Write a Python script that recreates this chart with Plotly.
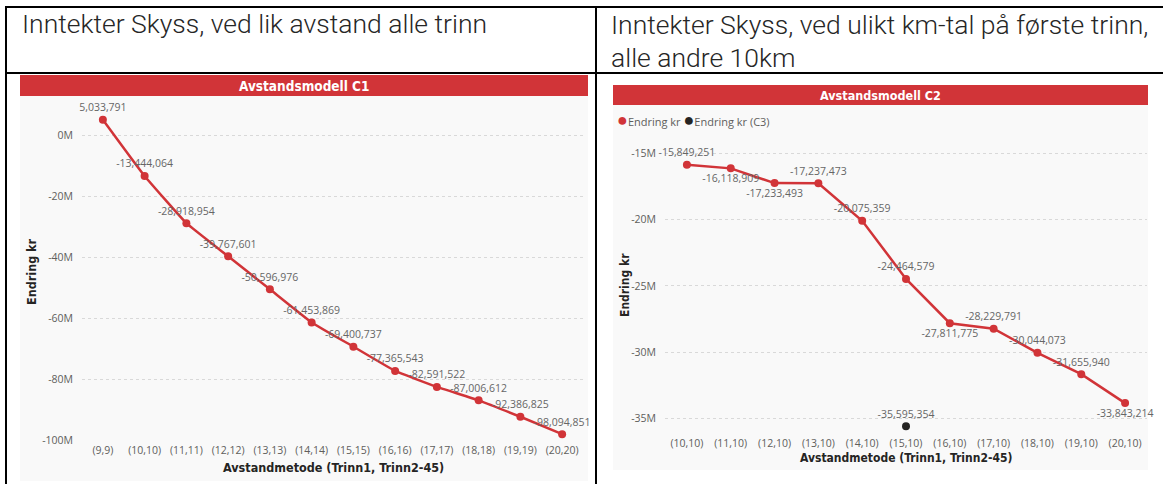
import plotly.graph_objects as go

W, H = 1165, 484

# ---------- data ----------
c1_categories = ["(9,9)", "(10,10)", "(11,11)", "(12,12)", "(13,13)", "(14,14)",
                 "(15,15)", "(16,16)", "(17,17)", "(18,18)", "(19,19)", "(20,20)"]
c1_values = [5033791, -13444064, -28918954, -39767601, -50596976, -61453869,
             -69400737, -77365543, -82591522, -87006612, -92386825, -98094851]

c2_categories = ["(10,10)", "(11,10)", "(12,10)", "(13,10)", "(14,10)", "(15,10)",
                 "(16,10)", "(17,10)", "(18,10)", "(19,10)", "(20,10)"]
c2_values = [-15849251, -16118909, -17233493, -17237473, -20075359, -24464579,
             -27811775, -28229791, -30044073, -31655940, -33843214]
c3_categories = ["(15,10)"]
c3_values = [-35595354]

c1_ticks = [0, -20e6, -40e6, -60e6, -80e6, -100e6]
c1_ticklabels = ["0M", "-20M", "-40M", "-60M", "-80M", "-100M"]
c2_ticks = [-15e6, -20e6, -25e6, -30e6, -35e6]
c2_ticklabels = ["-15M", "-20M", "-25M", "-30M", "-35M"]

# label placement (style, not data)
c2_textpos = ["top center", "bottom center", "bottom center", "top center", "top center",
              "top center", "bottom center", "top center", "top center", "top center",
              "bottom center"]

RED = "#D13438"
DARK = "#252423"
GRAY = "#605E5C"
LABEL = "#666666"


def px_x(p):
    return p / W


def px_y(p):
    return 1 - p / H


def fmt(v):
    return f"{v:,}"


lab_font = dict(family="Open Sans, Noto Sans", size=10.5, color=LABEL)

fig = go.Figure()

fig.add_trace(go.Scatter(
    x=c1_categories, y=c1_values, mode="lines+markers+text",
    line=dict(color=RED, width=2.5, shape="spline", smoothing=0.3),
    marker=dict(color=RED, size=8),
    text=[fmt(v) for v in c1_values], textposition="top center",
    textfont=lab_font, cliponaxis=False, showlegend=False, xaxis="x", yaxis="y"))

fig.add_trace(go.Scatter(
    x=c2_categories, y=c2_values, mode="lines+markers+text", name="Endring kr",
    line=dict(color=RED, width=2.5), marker=dict(color=RED, size=8),
    text=[fmt(v) for v in c2_values], textposition=c2_textpos,
    textfont=lab_font, cliponaxis=False, showlegend=False, xaxis="x2", yaxis="y2"))

fig.add_trace(go.Scatter(
    x=c3_categories, y=c3_values, mode="markers+text", name="Endring kr (C3)",
    marker=dict(color="#252423", size=8),
    text=[fmt(v) for v in c3_values], textposition="top center",
    textfont=lab_font, cliponaxis=False, showlegend=False, xaxis="x2", yaxis="y2"))

axis_common = dict(showline=False, zeroline=False, ticks="", automargin=False,
                   tickfont=dict(family="Open Sans, Noto Sans", size=10.5, color=GRAY))

fig.update_layout(
    width=W, height=H, margin=dict(l=0, r=0, t=0, b=0, pad=0, autoexpand=False),
    paper_bgcolor="white", plot_bgcolor="rgba(0,0,0,0)", showlegend=False,
    xaxis=dict(domain=[px_x(82), px_x(583)], type="category",
               range=[-0.5, len(c1_categories) - 0.5], showgrid=False,
               categoryorder="array", categoryarray=c1_categories,
               anchor="y", ticklabelstandoff=2, **axis_common),
    yaxis=dict(domain=[px_y(440), px_y(104.5)], range=[-100e6, 10e6],
               tickvals=c1_ticks, ticktext=c1_ticklabels,
               showgrid=True, gridcolor="#D9D9D9", griddash="dot", gridwidth=1,
               anchor="x", ticklabelstandoff=8, **axis_common),
    xaxis2=dict(domain=[px_x(665), px_x(1147)], type="category",
                range=[-0.5, len(c2_categories) - 0.5], showgrid=False,
                categoryorder="array", categoryarray=c2_categories,
                anchor="y2", ticklabelstandoff=2, **axis_common),
    yaxis2=dict(domain=[px_y(433), px_y(135)], range=[-36.1e6, -13.6e6],
                tickvals=c2_ticks, ticktext=c2_ticklabels,
                showgrid=True, gridcolor="#D9D9D9", griddash="dot", gridwidth=1,
                anchor="x2", ticklabelstandoff=8, **axis_common),
)

shapes = []
# chart backgrounds
shapes.append(dict(type="rect", xref="paper", yref="paper", layer="below",
                   x0=px_x(20), x1=px_x(588), y0=px_y(481), y1=px_y(95),
                   fillcolor="#F9F9F9", line=dict(width=0)))
shapes.append(dict(type="rect", xref="paper", yref="paper", layer="below",
                   x0=px_x(613), x1=px_x(1148), y0=px_y(470), y1=px_y(105),
                   fillcolor="#F9F9F9", line=dict(width=0)))
# red title bars
shapes.append(dict(type="rect", xref="paper", yref="paper", layer="below",
                   x0=px_x(20), x1=px_x(588), y0=px_y(96), y1=px_y(75),
                   fillcolor=RED, line=dict(width=0)))
shapes.append(dict(type="rect", xref="paper", yref="paper", layer="below",
                   x0=px_x(613), x1=px_x(1148), y0=px_y(105), y1=px_y(85),
                   fillcolor=RED, line=dict(width=0)))
# table borders
for (x0, y0, x1, y1) in [(5, 7, 1163, 7), (5, 73, 1163, 73), (6, 7, 6, 484),
                         (596, 7, 596, 484)]:
    shapes.append(dict(type="line", xref="paper", yref="paper",
                       x0=px_x(x0), x1=px_x(x1), y0=px_y(y0), y1=px_y(y1),
                       line=dict(color="black", width=2)))
fig.update_layout(shapes=shapes)

ann = []
head_font = dict(family="Roboto Light, Roboto", size=26.5, color="#262626", weight=300)
ann.append(dict(text="Inntekter Skyss, ved lik avstand alle trinn", xref="paper", yref="paper",
                x=px_x(20), y=px_y(23), xanchor="left", yanchor="middle",
                showarrow=False, font=head_font))
ann.append(dict(text="Inntekter Skyss, ved ulikt km-tal på første trinn,", xref="paper", yref="paper",
                x=px_x(609), y=px_y(24), xanchor="left", yanchor="middle",
                showarrow=False, font=head_font))
ann.append(dict(text="alle andre 10km", xref="paper", yref="paper",
                x=px_x(609), y=px_y(57), xanchor="left", yanchor="middle",
                showarrow=False, font=head_font))
title_font = dict(family="DejaVu Sans Condensed", size=13.5, color="white", weight="bold")
ann.append(dict(text="Avstandsmodell C1", xref="paper", yref="paper",
                x=px_x(304), y=px_y(85.5), xanchor="center", yanchor="middle",
                showarrow=False, font=title_font))
ann.append(dict(text="Avstandsmodell C2", xref="paper", yref="paper",
                x=px_x(880), y=px_y(95), xanchor="center", yanchor="middle",
                showarrow=False, font=dict(title_font, size=12.5)))
axt_font = dict(family="DejaVu Sans Condensed", size=12, color=DARK, weight="bold")
ann.append(dict(text="Endring kr", xref="paper", yref="paper", textangle=-90,
                x=px_x(31), y=px_y(272), xanchor="center", yanchor="middle",
                showarrow=False, font=dict(axt_font, size=12.5)))
ann.append(dict(text="Avstandmetode (Trinn1, Trinn2-45)", xref="paper", yref="paper",
                x=px_x(334), y=px_y(467), xanchor="center", yanchor="middle",
                showarrow=False, font=dict(axt_font, size=12.5)))
ann.append(dict(text="Endring kr", xref="paper", yref="paper", textangle=-90,
                x=px_x(625), y=px_y(285), xanchor="center", yanchor="middle",
                showarrow=False, font=axt_font))
ann.append(dict(text="Avstandmetode (Trinn1, Trinn2-45)", xref="paper", yref="paper",
                x=px_x(906), y=px_y(458), xanchor="center", yanchor="middle",
                showarrow=False, font=axt_font))
# legend (drawn as text + marker symbols)
leg_font = dict(family="Open Sans, Noto Sans", size=11, color=GRAY)
ann.append(dict(text="<span style='color:%s;font-size:18px'>●</span>Endring kr <span style='color:#252423;font-size:18px'>●</span>Endring kr (C3)" % RED,
                xref="paper", yref="paper", x=px_x(615), y=px_y(119),
                xanchor="left", yanchor="middle", showarrow=False, font=leg_font))
fig.update_layout(annotations=ann)

fig.write_html("out.html", config={"displayModeBar": False},
               post_script="document.body.style.margin='0';")
